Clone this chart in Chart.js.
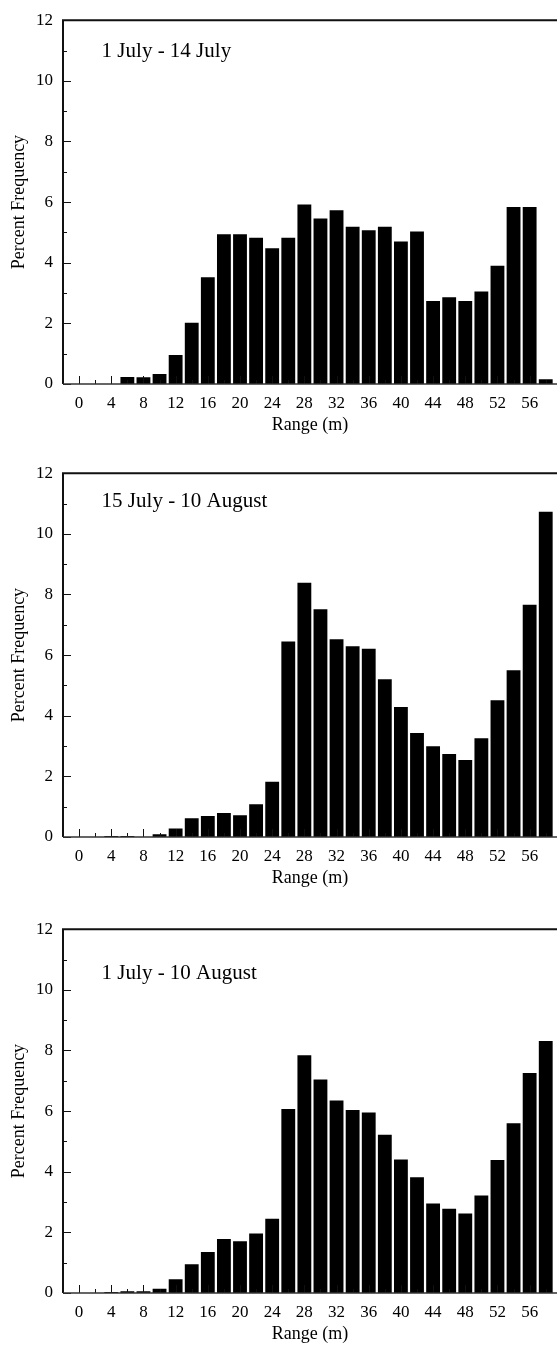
<!DOCTYPE html>
<html>
<head>
<meta charset="utf-8">
<script src="https://cdn.jsdelivr.net/npm/chart.js@4"></script>
<style>
  html, body { margin: 0; padding: 0; background: #fff; overflow: hidden; }
  #wrap { position: relative; width: 557px; height: 1346px; }
  canvas { position: absolute; left: 0; }
</style>
</head>
<body>
<div id="wrap">
  <canvas id="panelEarly" width="557" height="437" style="top:0px"></canvas>
  <canvas id="panelLate" width="557" height="437" style="top:453px"></canvas>
  <canvas id="panelAll" width="557" height="437" style="top:909px"></canvas>
</div>
<script>
// Range bins (m), one bar per 2 m bin
const rangeBins = [0, 2, 4, 6, 8, 10, 12, 14, 16, 18, 20, 22, 24, 26, 28,
  30, 32, 34, 36, 38, 40, 42, 44, 46, 48, 50, 52, 54, 56, 58];
const rangeTicks = [0, 4, 8, 12, 16, 20, 24, 28, 32, 36, 40, 44, 48, 52, 56];
const percentTicks = [0, 2, 4, 6, 8, 10, 12];

// Percent frequency per bin
const earlyJuly = [0, 0, 0, 0.23, 0.22, 0.33, 0.96, 2.02, 3.52, 4.94, 4.94, 4.82,
  4.48, 4.82, 5.92, 5.46, 5.73, 5.19, 5.07, 5.19, 4.70, 5.03, 2.74, 2.86, 2.74,
  3.05, 3.90, 5.84, 5.84, 0.16];
const lateJulyAugust = [0, 0, 0.03, 0.03, 0, 0.09, 0.28, 0.62, 0.69, 0.79, 0.72,
  1.08, 1.82, 6.45, 8.39, 7.51, 6.52, 6.29, 6.21, 5.20, 4.29, 3.43, 2.99, 2.74,
  2.54, 3.26, 4.51, 5.50, 7.66, 10.73];
const wholeSeason = [0, 0, 0.03, 0.06, 0.06, 0.14, 0.45, 0.95, 1.35, 1.78, 1.71,
  1.96, 2.45, 6.07, 7.84, 7.04, 6.35, 6.04, 5.95, 5.22, 4.40, 3.82, 2.95, 2.78,
  2.62, 3.22, 4.39, 5.60, 7.26, 8.31];

const panelTitles = ["1 July - 14 July", "15 July - 10 August", "1 July - 10 August"];
// where each period label sits, in data units (range m, percent)
const titleSpots = [[2.8, 10.79], [2.8, 10.87], [2.8, 10.36]];

const serif = "'Liberation Serif', 'Times New Roman', serif";
const ink = "#000";

// inward ticks, frame lines and the period label
const framePlugin = {
  id: "frame",
  afterDatasetsDraw(chart, args, opts) {
    const { ctx, chartArea: area, scales: { x, y } } = chart;
    ctx.save();
    ctx.strokeStyle = "#111";
    ctx.lineWidth = 1;
    ctx.beginPath();
    rangeTicks.forEach((v) => {
      const px = Math.round(x.getPixelForValue(v)) + 0.5;
      ctx.moveTo(px, area.bottom);
      ctx.lineTo(px, area.bottom - 8);
      const mid = Math.round(x.getPixelForValue(v + 2)) + 0.5;
      ctx.moveTo(mid, area.bottom);
      ctx.lineTo(mid, area.bottom - 4);
    });
    percentTicks.forEach((v) => {
      const py = Math.round(y.getPixelForValue(v)) + 0.5;
      ctx.moveTo(area.left, py);
      ctx.lineTo(area.left + 8, py);
      if (v < 12) {
        const mid = Math.round(y.getPixelForValue(v + 1)) + 0.5;
        ctx.moveTo(area.left, mid);
        ctx.lineTo(area.left + 4, mid);
      }
    });
    ctx.stroke();

    ctx.lineWidth = 2;
    ctx.beginPath();
    ctx.moveTo(area.left, area.bottom);
    ctx.lineTo(area.left, area.top);
    ctx.lineTo(area.right, area.top);
    ctx.stroke();
    ctx.lineWidth = 1.5;
    ctx.strokeStyle = "#333";
    ctx.beginPath();
    ctx.moveTo(area.left, area.bottom);
    ctx.lineTo(area.right, area.bottom);
    ctx.stroke();

    ctx.fillStyle = ink;
    ctx.font = "21px " + serif;
    ctx.textAlign = "left";
    ctx.textBaseline = "alphabetic";
    ctx.fillText(opts.text, x.getPixelForValue(opts.at[0]), y.getPixelForValue(opts.at[1]));
    ctx.restore();
  },
};

function makePanel(canvasId, values, index) {
  const tickFont = { family: serif, size: 17 };
  const titleFont = { family: serif, size: 18 };
  return new Chart(document.getElementById(canvasId), {
    type: "bar",
    data: {
      datasets: [
        {
          data: rangeBins.map((r, i) => ({ x: r, y: values[i] })),
          backgroundColor: ink,
          borderWidth: 0,
          barPercentage: 0.86,
          categoryPercentage: 1,
        },
      ],
    },
    options: {
      responsive: false,
      animation: false,
      devicePixelRatio: 1,
      layout: { padding: { top: 11, left: 0, right: 0, bottom: 0 } },
      plugins: {
        legend: { display: false },
        tooltip: { enabled: false },
        frame: { text: panelTitles[index], at: titleSpots[index] },
      },
      scales: {
        x: {
          type: "linear",
          min: -2,
          max: 59.4,
          offset: false,
          grid: { display: false, drawTicks: false, offset: false },
          border: { display: false },
          afterBuildTicks: (scale) => {
            scale.ticks = rangeTicks.map((v) => ({ value: v }));
          },
          afterFit: (scale) => {
            scale.height = 53;
          },
          ticks: {
            color: ink,
            font: tickFont,
            padding: 9,
            autoSkip: false,
            maxRotation: 0,
            callback: (v) => String(v),
          },
          title: {
            display: true,
            text: "Range (m)",
            color: ink,
            font: titleFont,
            padding: { top: 0, bottom: 1 },
          },
        },
        y: {
          min: 0,
          max: 12,
          grid: { display: false, drawTicks: false },
          border: { display: false },
          afterBuildTicks: (scale) => {
            scale.ticks = percentTicks.map((v) => ({ value: v }));
          },
          afterFit: (scale) => {
            scale.width = 63;
          },
          ticks: { color: ink, font: tickFont, padding: 10 },
          title: {
            display: true,
            text: "Percent Frequency",
            color: ink,
            font: titleFont,
            padding: { top: 8, bottom: 0 },
          },
        },
      },
    },
    plugins: [framePlugin],
  });
}

makePanel("panelEarly", earlyJuly, 0);
makePanel("panelLate", lateJulyAugust, 1);
makePanel("panelAll", wholeSeason, 2);
</script>
</body>
</html>
